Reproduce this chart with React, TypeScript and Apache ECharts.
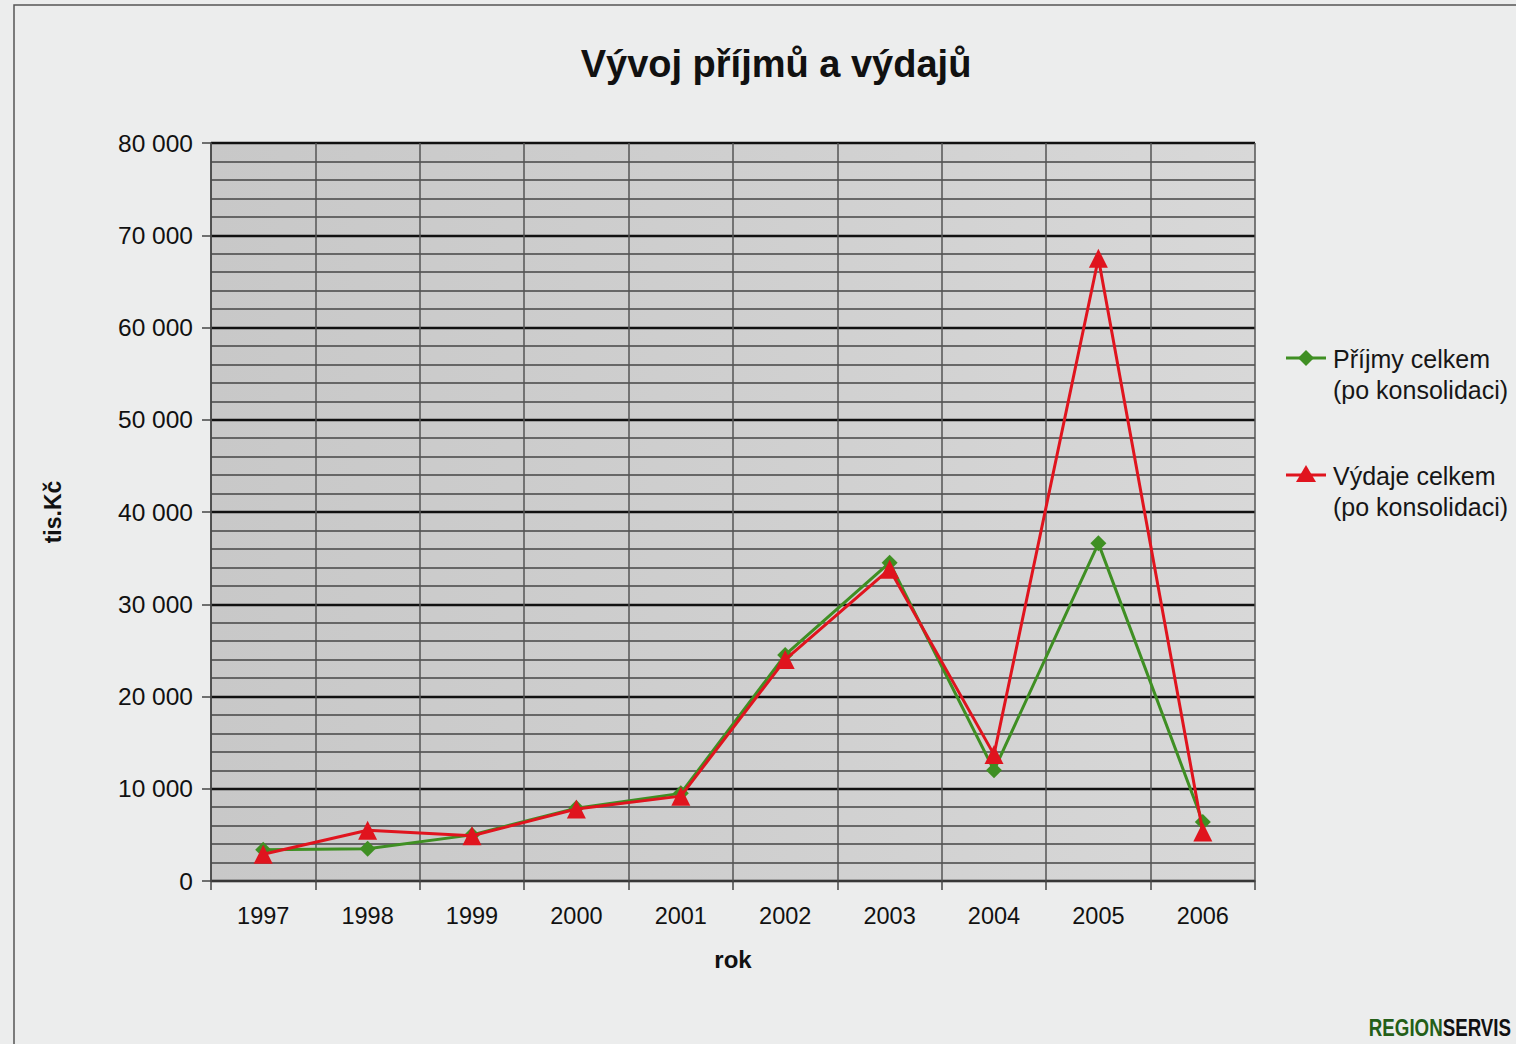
import React, { useEffect, useRef } from "react";
import * as echarts from "echarts";

const years = ["1997", "1998", "1999", "2000", "2001", "2002", "2003", "2004", "2005", "2006"];
const prijmy = [3400, 3500, 5000, 7900, 9500, 24500, 34500, 12000, 36600, 6400];
const vydaje = [2900, 5500, 4900, 7800, 9200, 24000, 33800, 13700, 67500, 5300];
const prijmyName = "Příjmy celkem";
const vydajeName = "Výdaje celkem";
const legendSub = "(po konsolidaci)";
const titleText = "Vývoj příjmů a výdajů";
const yName = "tis.Kč";
const xName = "rok";

const GREEN = "#3f8f23";
const RED = "#e0141e";
const FONT = "'Liberation Sans', Arial, sans-serif";

export default function App() {
  const ref = useRef<HTMLDivElement>(null);
  useEffect(() => {
    if (!ref.current) return;
    const chart = echarts.init(ref.current, undefined, { renderer: "svg" });
    const fmt = (v: number) => {
      const s = String(Math.round(v));
      return s.replace(/\B(?=(\d{3})+(?!\d))/g, " ");
    };
    const legendItem = (y: number, color: string, symbol: "diamond" | "triangle", name: string) => {
      const marker =
        symbol === "diamond"
          ? {
              type: "polygon",
              shape: { points: [[1306, y - 8], [1314, y], [1306, y + 8], [1298, y]] },
              style: { fill: color },
            }
          : {
              type: "polygon",
              shape: { points: [[1306, y - 10], [1316, y + 7], [1296, y + 7]] },
              style: { fill: color },
            };
      return [
        { type: "line", shape: { x1: 1286, y1: y, x2: 1326, y2: y }, style: { stroke: color, lineWidth: 3 } },
        marker,
        {
          type: "text",
          x: 1333,
          y: y - 15,
          style: {
            text: name + "\n" + legendSub,
            font: `25px ${FONT}`,
            fill: "#161616",
            lineHeight: 31,
            verticalAlign: "top",
          },
        },
      ];
    };
    chart.setOption({
      animation: false,
      backgroundColor: "#eceded",
      title: {
        text: titleText,
        left: 771,
        top: 40,
        textAlign: "center",
        textStyle: { fontFamily: FONT, fontWeight: "bold", fontSize: 38, color: "#111" },
      },
      grid: {
        left: 211,
        right: 261,
        top: 143,
        bottom: 163,
        show: true,
        borderWidth: 0,
        backgroundColor: new echarts.graphic.LinearGradient(0, 0, 1, 0, [
          { offset: 0, color: "#c8c8c8" },
          { offset: 0.5, color: "#cfcfcf" },
          { offset: 1, color: "#d8d8d8" },
        ]),
      },
      xAxis: {
        type: "category",
        data: years,
        boundaryGap: true,
        name: xName,
        nameLocation: "middle",
        nameGap: 66,
        nameTextStyle: { fontFamily: FONT, fontWeight: "bold", fontSize: 24, color: "#111" },
        axisLine: { show: true, lineStyle: { color: "#444", width: 1.5 } },
        axisTick: { show: true, interval: 0, length: 9, lineStyle: { color: "#444", width: 1.5 } },
        axisLabel: { fontFamily: FONT, fontSize: 23.5, color: "#111", margin: 23, interval: 0 },
        splitLine: { show: true, interval: 0, lineStyle: { color: "#555", width: 1.5 } },
      },
      yAxis: {
        type: "value",
        min: 0,
        max: 80000,
        interval: 10000,
        name: yName,
        nameLocation: "middle",
        nameGap: 147,
        nameRotate: 90,
        nameTextStyle: { fontFamily: FONT, fontWeight: "bold", fontSize: 23, color: "#111" },
        axisLine: { show: true, lineStyle: { color: "#444", width: 1.5 } },
        axisTick: { show: true, length: 9, lineStyle: { color: "#444", width: 1.5 } },
        axisLabel: { fontFamily: FONT, fontSize: 24.5, color: "#111", margin: 18, formatter: fmt },
        splitLine: { show: true, lineStyle: { color: "#111", width: 2.4 } },
        minorTick: { show: false, splitNumber: 5 },
        minorSplitLine: { show: true, lineStyle: { color: "#444", width: 1.5 } },
      },
      series: [
        {
          name: prijmyName,
          type: "line",
          data: prijmy,
          symbol: "diamond",
          symbolSize: 16,
          lineStyle: { color: GREEN, width: 3 },
          itemStyle: { color: GREEN },
          z: 3,
        },
        {
          name: vydajeName,
          type: "line",
          data: vydaje,
          symbol: "triangle",
          symbolSize: 19,
          lineStyle: { color: RED, width: 3 },
          itemStyle: { color: RED },
          z: 4,
        },
      ],
      graphic: [
        {
          type: "polyline",
          shape: { points: [[1516, 5], [14, 5], [14, 1044]] },
          style: { stroke: "#555", lineWidth: 1.5, fill: "none" },
          silent: true,
        },
        ...legendItem(358, GREEN, "diamond", prijmyName),
        ...legendItem(475, RED, "triangle", vydajeName),
        {
          type: "text",
          x: 1511,
          y: 1028,
          scaleX: 0.78,
          style: {
            text: "{g|REGION}{k|SERVIS}",
            align: "right",
            verticalAlign: "middle",
            rich: {
              g: { fontFamily: FONT, fontWeight: "bold", fontSize: 24, fill: "#245f18" },
              k: { fontFamily: FONT, fontWeight: "bold", fontSize: 24, fill: "#111" },
            },
          },
        },
      ],
    });
    return () => chart.dispose();
  }, []);
  return <div ref={ref} style={{ position: "fixed", left: 0, top: 0, width: 1516, height: 1044 }} />;
}
